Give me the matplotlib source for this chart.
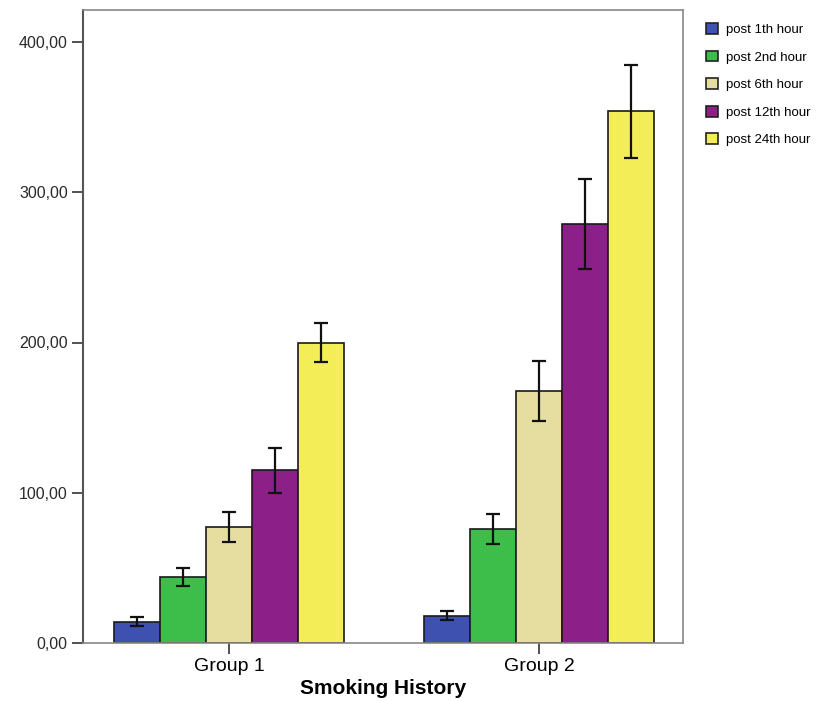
import matplotlib
matplotlib.use("Agg")
import matplotlib.pyplot as plt
import numpy as np
from matplotlib.patches import Patch

plt.rcParams['font.family'] = ['Liberation Sans', 'DejaVu Sans']

groups = ["Group 1", "Group 2"]
series = ["post 1th hour", "post 2nd hour", "post 6th hour", "post 12th hour", "post 24th hour"]
means = {
    "post 1th hour": [14, 18],
    "post 2nd hour": [44, 76],
    "post 6th hour": [77, 168],
    "post 12th hour": [115, 279],
    "post 24th hour": [200, 354],
}
errs = {
    "post 1th hour": [3, 3],
    "post 2nd hour": [6, 10],
    "post 6th hour": [10, 20],
    "post 12th hour": [15, 30],
    "post 24th hour": [13, 31],
}
colors = ["#3F51B0", "#3DBE4B", "#E5DEA0", "#8C2088", "#F3EE58"]
yticks = [0, 100, 200, 300, 400]
ytick_labels = ["0,00", "100,00", "200,00", "300,00", "400,00"]

fig = plt.figure(figsize=(8.27, 7.01), dpi=100)
ax = fig.add_axes([83/827, 58/701, 600/827, 633/701])

x = np.arange(len(groups))
w = 0.1484
for i, s in enumerate(series):
    pos = x + (i - 2) * w
    ax.bar(pos, means[s], width=w, color=colors[i], edgecolor="#1a1a1a", linewidth=1.2, zorder=2)
    ax.errorbar(pos, means[s], yerr=errs[s], fmt="none", ecolor="#111111",
                elinewidth=1.6, capsize=5, capthick=1.6, zorder=3)

ax.set_xlim(-0.471, 1.465)
ax.set_ylim(0, (643 - 10) / 150.25 * 100)
ax.set_yticks(yticks)
ax.set_yticklabels(ytick_labels, fontsize=11.5, color="#2a2a2a")
ax.set_xticks(x)
ax.set_xticklabels(groups, fontsize=14)
ax.tick_params(axis="y", length=8, width=1.2, color="#333333", pad=3)
ax.tick_params(axis="x", length=8, width=1.2, color="#333333", pad=3)
for side in ["top", "right"]:
    ax.spines[side].set_color("#888888")
    ax.spines[side].set_linewidth(1.2)
ax.spines["left"].set_color("#555555")
ax.spines["left"].set_linewidth(1.5)
ax.spines["bottom"].set_color("#888888")
ax.spines["bottom"].set_linewidth(1.2)
ax.set_xlabel("Smoking History", fontsize=15, fontweight="bold", labelpad=3)

handles = [Patch(facecolor=c, edgecolor="#222222", linewidth=1.2, label=s) for c, s in zip(colors, series)]
fig.legend(handles=handles, loc="upper left", bbox_to_anchor=(706/827, 1 - 23/701),
           frameon=False, fontsize=9.5, handlelength=0.9, handleheight=0.9,
           handletextpad=0.6, labelspacing=1.1, borderpad=0, borderaxespad=0)

fig.savefig("out.png", dpi=100)
